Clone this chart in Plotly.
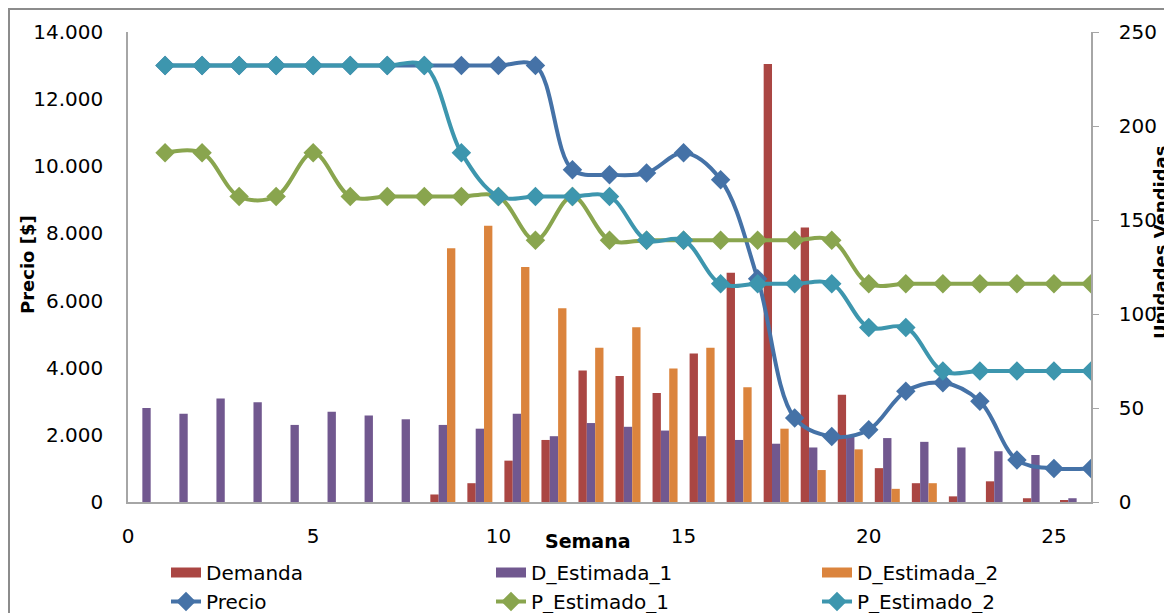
import plotly.graph_objects as go

weeks = list(range(1, 27))
demanda = [0, 0, 0, 0, 0, 0, 0, 0, 4, 10, 22, 33, 70, 67, 58, 79, 122, 233, 146, 57, 18, 10, 3, 11, 2, 1]
d_estimada_1 = [50, 47, 55, 53, 41, 48, 46, 44, 41, 39, 47, 35, 42, 40, 38, 35, 33, 31, 29, 35, 34, 32, 29, 27, 25, 2]
d_estimada_2 = [0, 0, 0, 0, 0, 0, 0, 0, 135, 147, 125, 103, 82, 93, 71, 82, 61, 39, 17, 28, 7, 10, 0, 0, 0, 0]
precio = [13000] * 11 + [9900, 9750, 9800, 10400, 9600, 6650, 2500, 1950, 2150, 3300, 3550, 3000, 1250, 1000, 1000]
p_estimado_1 = [10400, 10400, 9100, 9100, 10400, 9100, 9100, 9100, 9100, 9100, 7800, 9100, 7800,
                7800, 7800, 7800, 7800, 7800, 7800, 6500, 6500, 6500, 6500, 6500, 6500, 6500]
p_estimado_2 = [13000] * 8 + [10400, 9100, 9100, 9100, 9100, 7800, 7800, 6500, 6500, 6500, 6500,
                              5200, 5200, 3900, 3900, 3900, 3900, 3900]

C_DEM = '#AA4643'
C_D1 = '#71588F'
C_D2 = '#DB843D'
C_PRE = '#4572A7'
C_P1 = '#89A54E'
C_P2 = '#3D96AE'

FONT = 'DejaVu Sans'
AXC = '#A6A6A6'

# page body has an 8px margin: figure is sized to end exactly at the window edge
W, H = 1164, 605
ML, MT, PW, PH = 120, 24, 963, 470
MR = W - ML - PW
MB = H - MT - PH

# bars sit in the middle of each week interval (category-style secondary axis)
bar_x = [w - 0.5 for w in weeks]

fig = go.Figure()
for name, vals, col in [('Demanda', demanda, C_DEM), ('D_Estimada_1', d_estimada_1, C_D1),
                        ('D_Estimada_2', d_estimada_2, C_D2)]:
    fig.add_trace(go.Bar(x=bar_x, y=vals, name=name, marker=dict(color=col, line=dict(width=0)),
                         showlegend=False, yaxis='y'))

legend_cols = ['legend', 'legend2', 'legend3']
# legend swatches for bars (wide rectangles like the original)
for (name, col), lg in zip([('Demanda', C_DEM), ('D_Estimada_1', C_D1), ('D_Estimada_2', C_D2)], legend_cols):
    fig.add_trace(go.Scatter(x=[None], y=[None], mode='lines', name=name, legend=lg,
                             line=dict(color=col, width=10), yaxis='y'))
for (name, vals, col), lg in zip([('Precio', precio, C_PRE), ('P_Estimado_1', p_estimado_1, C_P1),
                                  ('P_Estimado_2', p_estimado_2, C_P2)], legend_cols):
    fig.add_trace(go.Scatter(x=weeks, y=vals, name=name, mode='lines+markers', legend=lg,
                             line=dict(color=col, width=4, shape='spline', smoothing=1),
                             marker=dict(symbol='diamond', size=15, color=col),
                             yaxis='y2'))


def legend_at(text_left_px):
    return dict(orientation='v', xref='container', yref='container',
                x=(text_left_px - 41) / W, y=1 - 545 / H, xanchor='left', yanchor='top',
                font=dict(family=FONT, size=20), itemwidth=30, tracegroupgap=0,
                bgcolor='rgba(0,0,0,0)', borderwidth=0)


fig.update_layout(
    width=W, height=H,
    margin=dict(l=ML, r=MR, t=MT, b=MB, autoexpand=False),
    paper_bgcolor='white', plot_bgcolor='white',
    separators=',.',
    barmode='group', bargap=0.325, bargroupgap=0,
    font=dict(family=FONT, size=20, color='black'),
    showlegend=True,
    legend=legend_at(199), legend2=legend_at(524), legend3=legend_at(850),
    xaxis=dict(range=[0, 26], tick0=0, dtick=5, showgrid=False, zeroline=False,
               showline=True, linecolor=AXC, linewidth=1.5, ticks='',
               ticklabelstandoff=15, tickfont=dict(size=20)),
    yaxis=dict(side='right', range=[0, 250], dtick=50, showgrid=False, zeroline=False,
               showline=True, linecolor=AXC, linewidth=1.5, ticks='outside', ticklen=6,
               tickcolor=AXC, ticklabelstandoff=16, tickfont=dict(size=20)),
    yaxis2=dict(overlaying='y', side='left', range=[0, 14000], dtick=2000, tickformat=',d',
                showgrid=False, zeroline=False, showline=True, linecolor=AXC, linewidth=1.5,
                ticks='', ticklabelstandoff=19, tickfont=dict(size=20)),
)

fig.add_annotation(text='<b>Precio [$]</b>', xref='paper', yref='paper',
                   x=(27 - 128) / PW, y=(502 - 265) / PH, textangle=-90, showarrow=False,
                   font=dict(size=18, family=FONT), xanchor='center', yanchor='middle')
fig.add_annotation(text='<b>Unidades Vendidas</b>', xref='paper', yref='paper',
                   x=(1160 - 128) / PW, y=(502 - 243) / PH, textangle=-90, showarrow=False,
                   font=dict(size=18, family=FONT), xanchor='center', yanchor='middle')
fig.add_annotation(text='<b>Semana</b>', xref='paper', yref='paper',
                   x=(588 - 128) / PW, y=(502 - 541) / PH, showarrow=False,
                   font=dict(size=19, family=FONT), xanchor='center', yanchor='middle')

# chart-area border
fig.add_shape(type='rect', xref='paper', yref='paper', x0=(1 - ML) / PW, y0=-0.4,
              x1=1.2, y1=(PH + MT - 1) / PH, line=dict(color='#8C8C8C', width=2), layer='below')

fig.write_html('out.html')
